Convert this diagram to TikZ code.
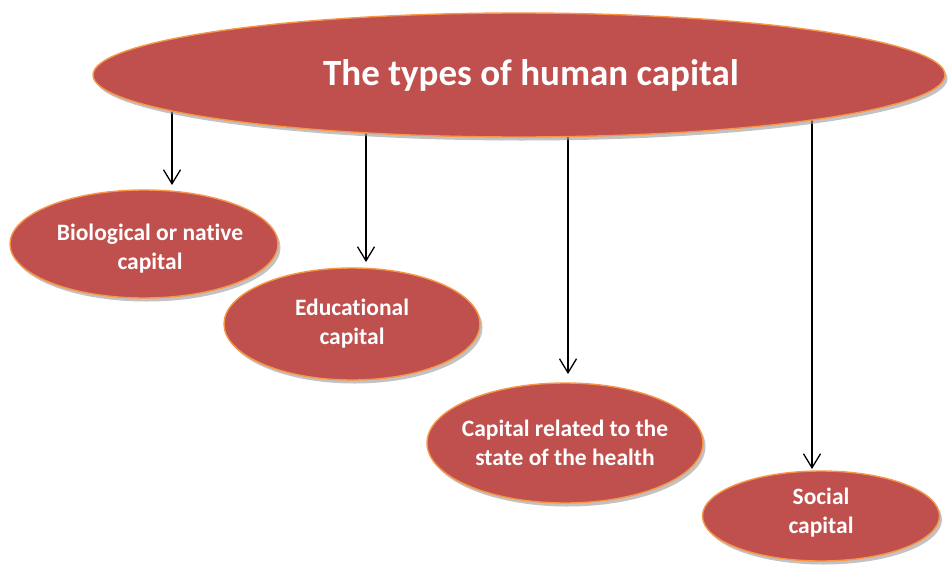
\documentclass[tikz,border=0pt]{standalone}
\usepackage{fontspec}
\setmainfont{Carlito}[Ligatures=NoCommon]
\usetikzlibrary{arrows.meta,shadows,shapes.geometric,backgrounds}
\definecolor{capfill}{HTML}{C0504D}
\definecolor{capedge}{HTML}{F79646}
\begin{document}
\begin{tikzpicture}[x=1pt,y=1pt,
  capsule/.style={ellipse, fill=capfill, draw=capedge, line width=1.4pt,
    inner sep=0pt, inner xsep=-10pt, outer sep=0pt, text=white, align=center,
    font=\bfseries\fontsize{23.5}{29}\selectfont,
    drop shadow={shadow xshift=2.5pt, shadow yshift=-3.5pt, fill=black!40, opacity=0.6}},
  link/.style={-{Straight Barb[length=14pt,width=17pt]}, line width=1.3pt, black}
]
\useasboundingbox (0,0) rectangle (948,-565);

% root and the four kinds of capital
\node[capsule, minimum width=852pt, minimum height=124pt,
      font=\bfseries\fontsize{37}{44}\selectfont] (main) at (519,-75) {\hspace*{24pt}The types of human capital};
\node[capsule, minimum width=268pt, minimum height=108pt] (bio) at (144,-244)
  {\rule{0pt}{26pt}\hspace*{12pt}Biological or native\\\hspace*{12pt}capital};
\node[capsule, minimum width=256pt, minimum height=112pt] (edu) at (352,-324) {Educational\\capital};
\node[capsule, minimum width=276pt, minimum height=120pt] (health) at (565,-443) {Capital related to the\\state of the health};
\node[capsule, minimum width=237pt, minimum height=90pt] (social) at (821,-516)
  {Social\\capital\rule[-11pt]{0pt}{0pt}};

% connectors, running out from under the root
\begin{scope}[on background layer]
\draw[link, shorten >=5pt] ([xshift=-347pt]main.center) -- ([xshift=-347pt]main.center |- bio.north);
\draw[link, shorten >=6pt] ([xshift=-153pt]main.center) -- ([xshift=-153pt]main.center |- edu.north);
\draw[link, shorten >=9pt] ([xshift=49pt]main.center) -- ([xshift=49pt]main.center |- health.north);
\draw[link, shorten >=2pt] ([xshift=293pt]main.center) -- ([xshift=293pt]main.center |- social.north);
\end{scope}
\end{tikzpicture}
\end{document}
